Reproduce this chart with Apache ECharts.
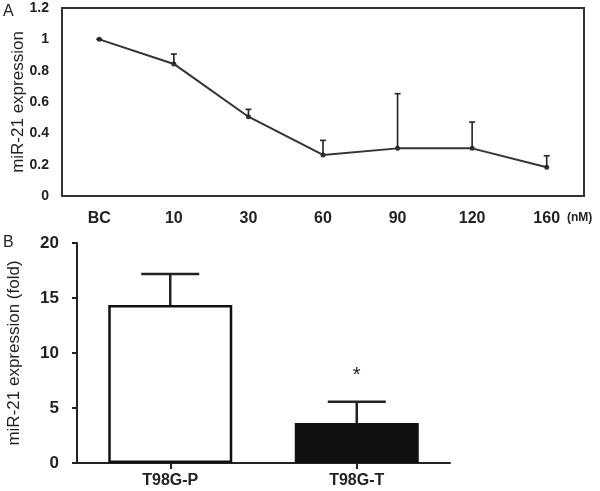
<!DOCTYPE html>
<html>
<head>
<meta charset="utf-8">
<script src="https://cdn.jsdelivr.net/npm/echarts@6/dist/echarts.min.js"></script>
<style>
  html, body { margin: 0; padding: 0; background: #fff; }
  #main { width: 600px; height: 491px; }
</style>
</head>
<body>
<div id="main"></div>
<script>
// panel A - dose response
var catsA = ['BC', '10', '30', '60', '90', '120', '160'];
var meanA = [1.0, 0.843, 0.506, 0.262, 0.304, 0.304, 0.183];
var errA = [0, 0.063, 0.047, 0.093, 0.349, 0.168, 0.074];
var ticksA = [0, 0.2, 0.4, 0.6, 0.8, 1, 1.2];

// panel B - two cell lines
var catsB = ['T98G-P', 'T98G-T'];
var meanB = [14.36, 3.64];
var errB = [2.82, 1.92];
var sigB = ['', '*'];
var ticksB = [0, 5, 10, 15, 20];

var FONT = "'Liberation Sans', Arial, sans-serif";
var INK = '#222';

var chart = echarts.init(document.getElementById('main'));

function errRender(capW, lw, marks) {
  return function (params, api) {
    var m = api.value(1), e = api.value(2);
    var lo = api.coord([api.value(0), m]);
    var hi = api.coord([api.value(0), m + e]);
    var kids = [
      { type: 'line', shape: { x1: lo[0], y1: lo[1], x2: hi[0], y2: hi[1] }, style: { stroke: INK, lineWidth: lw } },
      { type: 'line', shape: { x1: hi[0] - capW / 2, y1: hi[1], x2: hi[0] + capW / 2, y2: hi[1] }, style: { stroke: INK, lineWidth: lw } }
    ];
    if (marks && marks[params.dataIndex]) {
      kids.push({ type: 'text', x: hi[0], y: hi[1] - 26, style: { text: marks[params.dataIndex], font: '20px ' + FONT, fill: INK, align: 'center', verticalAlign: 'middle' } });
    }
    return { type: 'group', children: kids };
  };
}

var option = {
  backgroundColor: '#fff',
  animation: false,
  textStyle: { fontFamily: FONT },
  grid: [
    { left: 62, top: 8, width: 522, height: 188, outerBoundsMode: 'none', containLabel: false, show: true, borderColor: '#333', borderWidth: 2, backgroundColor: 'transparent' },
    { left: 77, top: 243, width: 373, height: 220, outerBoundsMode: 'none', containLabel: false }
  ],
  xAxis: [
    {
      gridIndex: 0, type: 'category', data: catsA, boundaryGap: true,
      axisLine: { show: false }, axisTick: { show: false },
      axisLabel: { margin: 15, fontSize: 16, fontWeight: 'bold', color: INK, fontFamily: FONT }
    },
    {
      gridIndex: 1, type: 'category', data: catsB, boundaryGap: true,
      axisLine: { show: true, lineStyle: { color: INK, width: 2 } },
      axisTick: { show: true, alignWithLabel: true, length: 6, lineStyle: { color: INK, width: 2 } },
      axisLabel: { margin: 10, fontSize: 16, fontWeight: 'bold', color: INK, fontFamily: FONT }
    }
  ],
  yAxis: [
    {
      gridIndex: 0, type: 'value', min: 0, max: 1.2, interval: 0.2,
      name: 'miR-21 expression', nameLocation: 'middle', nameGap: 35, nameMoveOverlap: false,
      nameTextStyle: { fontSize: 17, color: INK, fontFamily: FONT },
      axisLine: { show: false }, axisTick: { show: false }, splitLine: { show: false },
      axisLabel: {
        margin: 13, fontSize: 14, fontWeight: 'bold', color: INK, fontFamily: FONT,
        formatter: function (v) { return String(ticksA.find(function (t) { return Math.abs(t - v) < 1e-6; })); }
      }
    },
    {
      gridIndex: 1, type: 'value', min: 0, max: 20, interval: 5,
      name: 'miR-21 expression (fold)', nameLocation: 'middle', nameGap: 54, nameMoveOverlap: false,
      nameTextStyle: { fontSize: 17, color: INK, fontFamily: FONT },
      axisLine: { show: true, lineStyle: { color: INK, width: 2 } },
      axisTick: { show: true, length: 5, lineStyle: { color: INK, width: 2 } },
      splitLine: { show: false },
      axisLabel: {
        margin: 18, fontSize: 17, fontWeight: 'bold', color: INK, fontFamily: FONT,
        formatter: function (v) { return String(ticksB[Math.round(v / 5)]); }
      }
    }
  ],
  series: [
    {
      type: 'line', xAxisIndex: 0, yAxisIndex: 0, data: meanA,
      symbol: 'circle', symbolSize: 5,
      lineStyle: { color: '#333', width: 2 }, itemStyle: { color: '#333' }, z: 3
    },
    {
      type: 'custom', xAxisIndex: 0, yAxisIndex: 0,
      renderItem: errRender(6, 1.6),
      encode: { x: 0, y: 1 },
      data: meanA.map(function (m, i) { return [i, m, errA[i]]; }), z: 4
    },
    {
      type: 'bar', xAxisIndex: 1, yAxisIndex: 1, barWidth: 124,
      data: meanB.map(function (v, i) {
        return { value: v, itemStyle: { color: i === 0 ? '#fff' : '#111', borderColor: '#111', borderWidth: 2.5 } };
      }), z: 2
    },
    {
      type: 'custom', xAxisIndex: 1, yAxisIndex: 1,
      renderItem: errRender(58, 2.5, sigB),
      encode: { x: 0, y: 1 },
      data: meanB.map(function (m, i) { return [i, m, errB[i]]; }), z: 3
    }
  ],
  graphic: [
    { type: 'text', left: 3, top: 4, style: { text: 'A', font: '16px ' + FONT, fill: INK } },
    { type: 'text', left: 3, top: 235, style: { text: 'B', font: '16px ' + FONT, fill: INK } },
    { type: 'text', left: 567, top: 212, style: { text: '(nM)', font: 'bold 12px ' + FONT, fill: INK } }
  ]
};

chart.setOption(option);
</script>
</body>
</html>
